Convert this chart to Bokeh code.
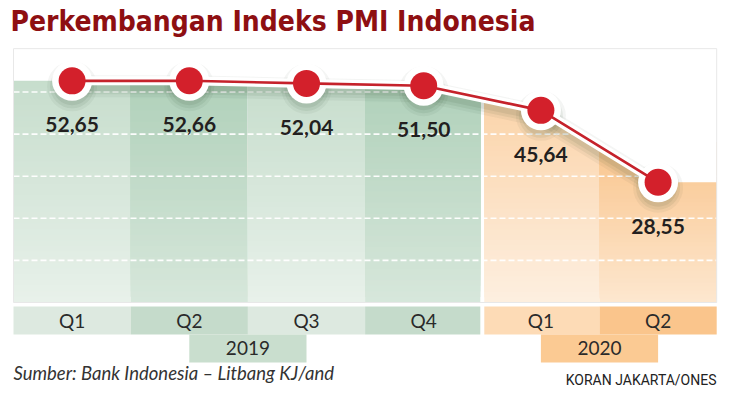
from bokeh.plotting import figure
from bokeh.models import Label, Range1d
from bokeh.core.properties import value
from bokeh.embed import file_html
from bokeh.resources import INLINE

# ---- data ----
quarters = ["Q1", "Q2", "Q3", "Q4", "Q1", "Q2"]
years = ["2019", "2019", "2019", "2019", "2020", "2020"]
year_labels = ["2019", "2020"]
pmi = [52.65, 52.66, 52.04, 51.50, 45.64, 28.55]
pmi_text = ["52,65", "52,66", "52,04", "51,50", "45,64", "28,55"]
title_text = "Perkembangan Indeks PMI Indonesia"
source_text = "Sumber: Bank Indonesia \u2013 Litbang KJ/and"
credit_text = "KORAN JAKARTA/ONES"
grid_values = [10, 20, 30, 40, 50]

# ---- style ----
W, H = 735, 406
PX_PER_UNIT = 4.21
ZERO_PX = 302          # pixel row of value 0
COL_PX = 117.2
LEFT_PX = 13
GAP = 0.017
BOX_TOP = 60.3
TITLE_FONT = "DejaVu Sans Condensed, Roboto"

def hex2rgb(h):
    h = h.lstrip("#")
    return tuple(int(h[i:i + 2], 16) for i in (0, 2, 4))

def mix(c1, c2, t):
    a, b = hex2rgb(c1), hex2rgb(c2)
    return "#%02x%02x%02x" % tuple(int(round(a[k] + (b[k] - a[k]) * t)) for k in range(3))

col_colors = {  # (bottom, top) of gradient
    ("2019", 0): ("#e8f1ea", "#c6ddcc"),
    ("2019", 1): ("#d7e7db", "#afd0b9"),
    ("2020", 0): ("#fdefe0", "#fbd3a8"),
    ("2020", 1): ("#fde7cf", "#f9c58d"),
}
band_colors = {
    ("2019", 0): "#dde9e0",
    ("2019", 1): "#c5dbcb",
    ("2020", 0): "#fddbb6",
    ("2020", 1): "#fac58c",
}
year_box_colors = {"2019": "#c9dece", "2020": "#fbca93"}

n = len(pmi)
xs = list(range(n))

x0 = -0.5 - LEFT_PX / COL_PX
x1 = x0 + W / COL_PX
y_top = ZERO_PX / PX_PER_UNIT
y_bot = -(H - ZERO_PX) / PX_PER_UNIT

p = figure(width=W, height=H, output_backend="svg", toolbar_location=None,
           x_range=Range1d(x0, x1), y_range=Range1d(y_bot, y_top),
           x_axis_location=None, y_axis_location=None, min_border=0,
           outline_line_color=None, background_fill_color="white",
           border_fill_color="white")
p.grid.visible = False

def col_edges(i):
    l = i - 0.5
    r = i + 0.5
    if i == 3:
        r -= GAP
    if i == 4:
        l += GAP
    return l, r

def parity(i):
    return i % 2 if years[i] == "2019" else (i - 4) % 2

# ---- gradient columns (each band painted from its base to column top) ----
NB = 40
for i in range(n):
    l, r = col_edges(i)
    left_v = pmi[i] if i == 0 else (pmi[i - 1] + pmi[i]) / 2
    right_v = pmi[i] if i == n - 1 else (pmi[i + 1] + pmi[i]) / 2
    top = max(pmi[i], left_v, right_v) + 1.0
    cb, ct = col_colors[(years[i], parity(i))]
    bottoms = [top * k / NB for k in range(NB)]
    cols = [mix(cb, ct, (k + 0.5) / NB) for k in range(NB)]
    p.quad(left=[l] * NB, right=[r] * NB, bottom=bottoms, top=[top] * NB,
           fill_color=cols, line_color=None)

# ---- gridlines ----
p.segment(x0=[-0.5] * len(grid_values), x1=[n - 0.5] * len(grid_values),
          y0=grid_values, y1=grid_values, line_color="white",
          line_width=1.6, line_dash="6 3", line_alpha=0.95)

# ---- white mask above the line ----
mx = [-0.5] + xs + [n - 0.5]
my = [pmi[0]] + pmi + [pmi[-1]]
p.varea(x=mx, y1=my, y2=[BOX_TOP] * len(mx), fill_color="white")

# faint frame
p.quad(left=[-0.5], right=[n - 0.5], bottom=[0], top=[BOX_TOP],
       fill_color=None, line_color="#e8e8e8", line_width=1)

# ---- shadows ----
sh = [v - 1.3 for v in pmi]
for w, a in [(22, 0.05), (16, 0.07), (10, 0.08)]:
    p.line(xs, sh, line_color="#204020", line_width=w, line_alpha=a)
for s, a in [(50, 0.05), (44, 0.07), (38, 0.08)]:
    p.scatter(xs, sh, size=s, fill_color="#204020", fill_alpha=a, line_color=None)

# ---- line with white halo ----
p.line(xs, pmi, line_color="white", line_width=9)
p.scatter(xs, pmi, size=40, fill_color="white", line_color=None)
p.line(xs, pmi, line_color="#c5222b", line_width=2.6)
p.scatter(xs, pmi, size=27, fill_color="#d3202b", line_color=None)

# ---- value labels ----
p.text(xs, pmi, text=pmi_text, text_align="center", text_baseline="middle",
       y_offset=44, text_font=value("Lato"), text_font_style="bold",
       text_font_size="21px", text_color="#231f20")

# ---- category band ----
QB_TOP, QB_BOT = -0.95, -7.6
YB_BOT = -14.25
for i in range(n):
    l, r = col_edges(i)
    p.quad(left=[l], right=[r], bottom=[QB_BOT], top=[QB_TOP],
           fill_color=band_colors[(years[i], parity(i))], line_color=None)
p.text(xs, [(QB_TOP + QB_BOT) / 2] * n, text=quarters, text_align="center",
       text_baseline="middle", text_font=value("Lato"), text_font_size="19px",
       text_color="#2a2a2a")

for yl in year_labels:
    idx = [i for i in range(n) if years[i] == yl]
    centre = (idx[len(idx) // 2 - 1] + idx[len(idx) // 2]) / 2
    p.quad(left=[centre - 0.5], right=[centre + 0.5], bottom=[YB_BOT], top=[QB_BOT],
           fill_color=year_box_colors[yl], line_color=None)
    p.text([centre], [(QB_BOT + YB_BOT) / 2], text=[yl], text_align="center",
           text_baseline="middle", text_font=value("Lato"), text_font_size="19px",
           text_color="#2a2a2a")

# ---- texts ----
p.add_layout(Label(x=10, y=H - 37, x_units="screen", y_units="screen",
                   text=title_text, text_font=TITLE_FONT,
                   text_font_style="bold", text_font_size="28px",
                   text_color="#8e0f12"))
p.add_layout(Label(x=LEFT_PX, y=H - 383, x_units="screen", y_units="screen",
                   text=source_text, text_font="Lato", text_font_style="italic",
                   text_font_size="18.5px", text_color="#333333"))
p.add_layout(Label(x=716, y=H - 387, x_units="screen", y_units="screen",
                   text=credit_text, text_font="Roboto",
                   text_font_size="14px", text_align="right",
                   text_color="#222222"))

open("out.html", "w").write(file_html(p, INLINE))
